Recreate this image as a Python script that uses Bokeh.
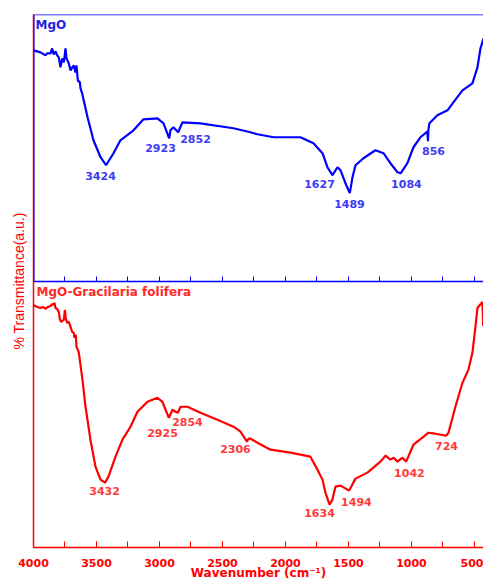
from bokeh.plotting import figure
from bokeh.models import Range1d, LinearAxis, SingleIntervalTicker, FixedTicker
from bokeh.core.properties import value
from bokeh.embed import file_html
from bokeh.resources import INLINE

# ---- data (wavenumber cm^-1, transmittance a.u.) ----
mgo_wn = [4000, 3944, 3905, 3892, 3865, 3852, 3839, 3825, 3812, 3799, 3786, 3772, 3759, 3746, 3738,
          3720, 3706, 3693, 3680, 3667, 3659, 3648, 3632, 3627, 3614, 3571, 3524, 3468, 3424, 3365,
          3310, 3206, 3127, 3016, 2968, 2923, 2913, 2889, 2852, 2817, 2675, 2413, 2278, 2222, 2095,
          1881, 1778, 1706, 1667, 1627, 1587, 1563, 1524, 1489, 1468, 1444, 1381, 1286, 1222, 1167,
          1111, 1084, 1032, 984, 929, 881, 873, 869, 865, 857, 794, 714, 667, 595, 516, 476, 452, 428]
mgo_t = [231, 229, 226, 228, 228, 233, 227, 230, 226, 224, 214, 223, 219, 233, 223,
         218, 211, 214, 216, 209, 216, 201, 199, 193, 188, 164, 141, 124, 116, 128,
         141, 151, 162, 163, 158, 143, 151, 154, 149, 159, 158, 153, 149, 147, 144,
         144, 138, 128, 114, 106, 114, 111, 98, 88, 104, 116, 123, 131, 128, 118,
         109, 108, 118, 134, 144, 149, 150, 140, 152, 158, 166, 171, 179, 191, 198, 214, 233, 243]

gf_wn = [4000, 3971, 3944, 3923, 3905, 3886, 3865, 3852, 3844, 3833, 3825, 3812, 3799, 3791, 3780,
         3772, 3759, 3751, 3744, 3733, 3720, 3706, 3693, 3680, 3675, 3664, 3659, 3648, 3640, 3611,
         3587, 3548, 3508, 3468, 3432, 3405, 3349, 3294, 3230, 3175, 3095, 3016, 2976, 2952, 2925,
         2897, 2873, 2854, 2833, 2778, 2675, 2540, 2413, 2357, 2306, 2294, 2278, 2222, 2119, 1960,
         1802, 1746, 1706, 1683, 1650, 1627, 1603, 1563, 1494, 1444, 1349, 1246, 1206, 1167, 1140,
         1111, 1071, 1042, 984, 913, 865, 810, 724, 706, 651, 595, 548, 516, 492, 476, 437, 430]
gf_t = [243, 241, 240, 241, 239, 241, 242, 244, 243, 245, 240, 239, 236, 229, 226,
        227, 228, 238, 230, 225, 226, 221, 216, 215, 210, 213, 201, 198, 195, 168,
        141, 108, 81, 68, 65, 71, 91, 108, 121, 136, 146, 150, 146, 138, 130,
        138, 136, 135, 141, 141, 135, 128, 121, 116, 106, 109, 109, 105, 98, 95,
        91, 78, 68, 55, 43, 48, 61, 62, 57, 69, 75, 86, 92, 88, 90,
        86, 90, 86, 103, 110, 115, 114, 112, 115, 141, 165, 178, 195, 221, 240, 246, 222]

mgo_peaks = ["3424", "2923", "2852", "1627", "1489", "1084", "856"]
mgo_peak_x = [3468, 2992, 2714, 1730, 1492, 1040, 825]
mgo_peak_y = [105, 133, 142, 97, 77, 97, 130]

gf_peaks = ["3432", "2925", "2854", "2306", "1634", "1494", "1042", "724"]
gf_peak_x = [3436, 2976, 2778, 2397, 1730, 1437, 1016, 722]
gf_peak_y = [57, 115, 126, 99, 35, 46, 75, 102]

minor_tick_marks = list(range(500, 4001, 250))

BLUE = "#0000ff"
BLUE_TXT = "#3c3cf5"
RED = "#ff0000"
RED_TXT = "#ff3a3a"
FONT = "DejaVu Sans"

p = figure(width=483, height=582, x_range=Range1d(4000, 428), y_range=Range1d(0, 534),
           x_axis_type=None, y_axis_type=None,
           output_backend="svg", toolbar_location=None,
           min_border_left=33, min_border_right=0, min_border_top=14, min_border_bottom=34,
           outline_line_color=None, background_fill_color="white", border_fill_color="white")
p.extra_y_ranges = {"top": Range1d(-267, 267)}
p.xgrid.visible = False
p.ygrid.visible = False

# bottom axis (red, labelled)
bx = LinearAxis(ticker=SingleIntervalTicker(interval=500, num_minor_ticks=2),
                axis_line_color=RED, axis_line_width=1.5,
                major_tick_line_color=RED, minor_tick_line_color=RED,
                major_tick_in=6, major_tick_out=0, minor_tick_in=6, minor_tick_out=0,
                major_label_text_color=RED, major_label_text_font=FONT,
                major_label_text_font_style="bold", major_label_text_font_size="11px",
                major_label_standoff=11,
                axis_label="Wavenumber (cm⁻¹)", axis_label_text_color=RED,
                axis_label_text_font=FONT, axis_label_text_font_style="bold",
                axis_label_text_font_size="12px", axis_label_standoff=-4)
p.add_layout(bx, "below")

# middle boundary axis (blue ticks, no labels)
mx = LinearAxis(y_range_name="top", fixed_location=0,
                ticker=FixedTicker(ticks=[], minor_ticks=minor_tick_marks),
                axis_line_color=BLUE, axis_line_width=1.5,
                minor_tick_line_color=BLUE, minor_tick_in=5, minor_tick_out=0)
p.add_layout(mx, "below")

# top border
tx = LinearAxis(y_range_name="top", fixed_location=267, ticker=FixedTicker(ticks=[]),
                axis_line_color=BLUE, axis_line_width=1.5)
p.add_layout(tx, "above")

# left borders
ly = LinearAxis(ticker=FixedTicker(ticks=[]), axis_line_color=RED, axis_line_width=1.5,
                axis_label="% Transmittance(a.u.)", axis_label_text_color=RED,
                axis_label_text_font="Liberation Sans", axis_label_text_font_style="normal",
                axis_label_text_font_size="14px", axis_label_standoff=7)
p.add_layout(ly, "left")
ly2 = LinearAxis(y_range_name="top", fixed_location=4000, bounds=(0, 267),
                 ticker=FixedTicker(ticks=[]), axis_line_color=BLUE, axis_line_width=2)
p.add_layout(ly2, "left")

# curves
p.line(mgo_wn, mgo_t, y_range_name="top", line_color=BLUE, line_width=2.2)
p.line(gf_wn, gf_t, line_color=RED, line_width=2.2)

# peak labels
p.text(x=mgo_peak_x, y=mgo_peak_y, text=mgo_peaks, y_range_name="top",
       text_color=BLUE_TXT, text_font=value(FONT), text_font_style="bold",
       text_font_size="11px", text_align="center", text_baseline="middle")
p.text(x=gf_peak_x, y=gf_peak_y, text=gf_peaks,
       text_color=RED_TXT, text_font=value(FONT), text_font_style="bold",
       text_font_size="11px", text_align="center", text_baseline="middle")

# panel names
p.text(x=[3984], y=[256], text=["MgO"], y_range_name="top",
       text_color="#2323e6", text_font=value(FONT), text_font_style="bold",
       text_font_size="12px", text_align="left", text_baseline="middle")
p.text(x=[3976], y=[256], text=["MgO-Gracilaria folifera"],
       text_color="#ff2a2a", text_font=value(FONT), text_font_style="bold",
       text_font_size="12px", text_align="left", text_baseline="middle")

open("out.html", "w").write(file_html(p, INLINE))
